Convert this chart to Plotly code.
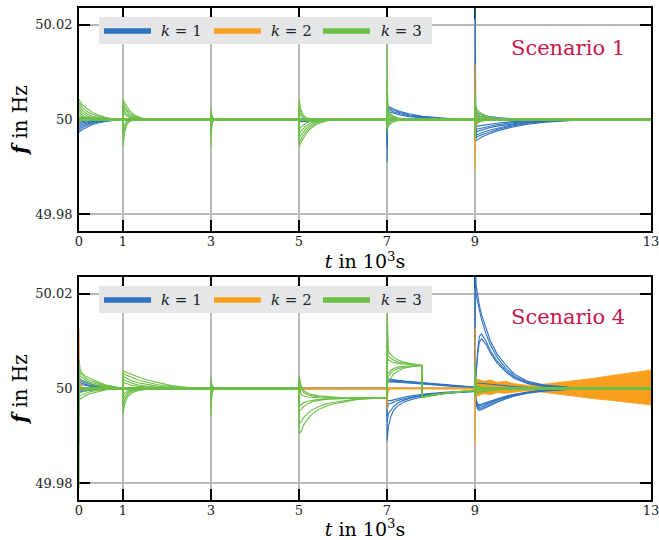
import plotly.graph_objects as go
from plotly.subplots import make_subplots

F0 = 50.0
X_TICKS = [0, 1, 3, 5, 7, 9, 13]
Y_TICKS = [49.98, 50.0, 50.02]
Y_TICK_TEXT = ["49.98", "50", "50.02"]
SERIES = ["k = 1", "k = 2", "k = 3"]
SCENARIOS = ["Scenario 1", "Scenario 4"]

# Transients: (event time in 10^3 s, time offsets in 10^3 s, curves as deviation in mHz)
S1_K1 = [
    (0, [0, 0.01, 0.05, 0.1, 0.2, 0.3, 0.45, 0.6, 0.8, 1.0], [
        [-2.7, -2.6, -2.3, -2.0, -1.5, -1.1, -0.7, -0.4, -0.15, 0],
        [-2.3, -2.2, -1.9, -1.6, -1.2, -0.85, -0.5, -0.3, -0.1, 0],
        [-1.9, -1.8, -1.5, -1.25, -0.9, -0.6, -0.35, -0.2, -0.05, 0],
        [-1.5, -1.4, -1.15, -0.95, -0.65, -0.45, -0.25, -0.1, 0, 0],
        [-1.1, -1.0, -0.8, -0.65, -0.45, -0.3, -0.15, -0.05, 0, 0],
        [-0.7, -0.65, -0.5, -0.4, -0.25, -0.15, -0.05, 0, 0, 0],
        [0.4, 0.4, 0.4, 0.38, 0.35, 0.3, 0.25, 0.18, 0.1, 0.04]]),
    (5, [0, 0.01, 0.05, 0.1, 0.2, 0.35, 0.5, 0.7, 0.9], [
        [0, -0.4, -0.45, -0.45, -0.4, -0.3, -0.2, -0.1, 0],
        [0, -0.25, -0.3, -0.3, -0.25, -0.2, -0.12, -0.05, 0]]),
    (7, [0, 0.003, 0.02, 0.06, 0.15, 0.3, 0.5, 0.8, 1.1, 1.5, 2.0], [
        [0, -9.0, 2.8, 2.6, 2.2, 1.7, 1.2, 0.7, 0.4, 0.15, 0],
        [0, -6.0, 2.5, 2.3, 1.9, 1.45, 1.0, 0.6, 0.3, 0.1, 0],
        [0, -4.0, 2.2, 2.0, 1.6, 1.2, 0.8, 0.45, 0.2, 0.05, 0],
        [0, 1.2, 1.8, 1.6, 1.3, 0.95, 0.6, 0.3, 0.15, 0.05, 0]]),
    (9, [0, 0.003, 0.02, 0.06, 0.15, 0.3, 0.5, 0.8, 1.2, 1.6, 2.2, 3.0], [
        [0, 30, -4.5, -4.2, -3.7, -3.1, -2.4, -1.7, -1.0, -0.55, -0.2, 0],
        [0, 12, -3.9, -3.6, -3.2, -2.7, -2.1, -1.45, -0.8, -0.45, -0.15, 0],
        [0, 6, -3.3, -3.1, -2.8, -2.3, -1.8, -1.2, -0.65, -0.35, -0.1, 0],
        [0, -2, -2.7, -2.5, -2.2, -1.8, -1.4, -0.95, -0.5, -0.25, -0.05, 0],
        [0, -1, -2.1, -2.0, -1.8, -1.5, -1.1, -0.7, -0.4, -0.2, 0, 0],
        [0, -1, -1.5, -1.4, -1.25, -1.05, -0.8, -0.5, -0.3, -0.1, 0, 0],
        [0, 2, 1.5, 1.3, 1.0, 0.7, 0.4, 0.2, 0.1, 0, 0, 0],
        [0, 3, 0.9, 0.8, 0.6, 0.4, 0.25, 0.1, 0, 0, 0, 0]]),
]
S1_K2 = [
    (0, [0, 0.005, 0.02, 0.05], [[0, -0.6, -0.3, 0], [0, 0.4, 0.2, 0]]),
    (7, [0, 0.003, 0.01, 0.03, 0.08], [
        [0, -1.7, -0.8, -0.2, 0], [0, -1.0, -0.5, -0.1, 0], [0, 0.6, 0.3, 0.1, 0]]),
    (9, [0, 0.003, 0.008, 0.02, 0.05, 0.1, 0.2], [
        [0, 11.6, 3, 1.2, 0.6, 0.2, 0], [0, -10.5, -3, -1.5, -0.6, -0.2, 0],
        [0, 6, 1.5, 0.8, 0.3, 0.1, 0], [0, -6, -1.8, -0.8, -0.3, -0.1, 0]]),
]
S1_K3 = [
    (0, [0, 0.01, 0.05, 0.1, 0.2, 0.3, 0.45, 0.6, 0.8], [
        [4.2, 4.0, 3.4, 2.9, 2.1, 1.5, 0.9, 0.45, 0.1],
        [3.6, 3.4, 2.8, 2.3, 1.6, 1.1, 0.6, 0.25, 0],
        [3.0, 2.8, 2.2, 1.7, 1.1, 0.7, 0.35, 0.1, 0],
        [2.4, 2.2, 1.6, 1.2, 0.7, 0.4, 0.2, 0.05, 0],
        [1.8, 1.6, 1.1, 0.7, 0.35, 0.15, 0.05, 0, 0],
        [1.2, 1.0, 0.7, 0.4, 0.2, 0.1, 0, 0, 0],
        [0.6, 0.5, 0.3, 0.2, 0.1, 0, 0, 0, 0]]),
    (1, [0, 0.005, 0.03, 0.08, 0.15, 0.25, 0.4, 0.6], [
        [0, 4.2, 3.6, 2.8, 1.9, 1.0, 0.35, 0],
        [0, 3.6, 3.0, 2.2, 1.4, 0.7, 0.2, 0],
        [0, 3.0, 2.4, 1.7, 1.0, 0.45, 0.1, 0],
        [0, 2.4, 1.8, 1.2, 0.65, 0.25, 0.05, 0],
        [0, 1.8, 1.3, 0.8, 0.4, 0.15, 0, 0],
        [0, -5.7, -3.0, -1.2, -0.4, -0.1, 0, 0],
        [0, -4.0, -2.0, -0.7, -0.2, 0, 0, 0],
        [0, -2.5, -1.2, -0.4, -0.1, 0, 0, 0]]),
    (3, [0, 0.003, 0.01, 0.03, 0.06, 0.1, 0.15], [
        [0, 2.5, 1.5, 0.6, 0.2, 0.05, 0],
        [0, 1.5, 0.9, 0.3, 0.1, 0, 0],
        [0, -5.7, -2.5, -0.8, -0.2, 0, 0],
        [0, -3.5, -1.5, -0.5, -0.1, 0, 0]]),
    (5, [0, 0.005, 0.03, 0.08, 0.15, 0.25, 0.4, 0.6, 0.8], [
        [0, -5.7, -5.0, -4.2, -3.2, -2.0, -1.0, -0.35, 0],
        [0, -4.8, -4.3, -3.6, -2.6, -1.6, -0.75, -0.25, 0],
        [0, -4.0, -3.5, -2.9, -2.0, -1.2, -0.5, -0.15, 0],
        [0, -3.0, -2.6, -2.1, -1.4, -0.8, -0.3, -0.1, 0],
        [0, -2.0, -1.7, -1.3, -0.8, -0.4, -0.15, 0, 0],
        [0, 4.2, 2.5, 1.2, 0.5, 0.1, 0, 0, 0],
        [0, 3.0, 1.8, 0.8, 0.3, 0.05, 0, 0, 0],
        [0, 2.0, 1.0, 0.4, 0.1, 0, 0, 0, 0]]),
    (7, [0, 0.003, 0.01, 0.03, 0.08, 0.15, 0.25, 0.4, 0.6], [
        [0, 15.8, 6, 2.0, 1.2, 0.7, 0.3, 0.1, 0],
        [0, 8, 3.5, 1.5, 0.9, 0.5, 0.2, 0.05, 0],
        [0, 4, 2.5, 1.1, 0.6, 0.3, 0.1, 0, 0],
        [0, 2.0, 1.5, 0.8, 0.4, 0.2, 0.05, 0, 0],
        [0, -2.5, -1.8, -1.4, -0.9, -0.5, -0.2, -0.05, 0],
        [0, -1.8, -1.3, -1.0, -0.6, -0.3, -0.1, 0, 0],
        [0, -1.2, -0.9, -0.6, -0.35, -0.15, 0, 0, 0]]),
    (9, [0, 0.003, 0.01, 0.04, 0.1, 0.2, 0.35, 0.5, 0.7], [
        [0, 5.7, 3.0, 2.2, 1.6, 1.0, 0.5, 0.2, 0],
        [0, 4.0, 2.4, 1.8, 1.2, 0.7, 0.3, 0.1, 0],
        [0, 3.0, 1.8, 1.3, 0.8, 0.45, 0.2, 0.05, 0],
        [0, 1.5, 1.0, 0.7, 0.4, 0.2, 0.05, 0, 0],
        [0, -4.2, -1.5, -0.9, -0.5, -0.25, -0.1, 0, 0],
        [0, -2.5, -1.0, -0.6, -0.3, -0.1, 0, 0, 0]]),
]

S4_K1 = [
    (0, [0, 0.03, 0.08, 0.15, 0.25, 0.4, 0.6, 0.85], [
        [2.1, 1.9, 1.7, 1.4, 1.0, 0.6, 0.25, 0],
        [1.7, 1.6, 1.4, 1.15, 0.8, 0.45, 0.2, 0],
        [1.3, 1.2, 1.05, 0.85, 0.6, 0.35, 0.15, 0],
        [0.9, 0.85, 0.75, 0.6, 0.4, 0.2, 0.1, 0],
        [-0.8, -0.7, -0.6, -0.5, -0.35, -0.2, -0.1, 0],
        [-0.4, -0.35, -0.3, -0.25, -0.15, -0.1, 0, 0]]),
    (7, [0, 0.004, 0.03, 0.08, 0.15, 0.25, 0.4, 0.6, 0.9, 1.3, 1.7, 2.0], [
        [0, -11, -8.2, -6.1, -4.6, -3.6, -2.8, -2.2, -1.6, -1.1, -0.8, -0.6],
        [0, -7, -5.3, -4.6, -3.8, -3.0, -2.4, -1.9, -1.4, -1.0, -0.75, -0.6],
        [0, -4.6, -3.2, -3.2, -2.9, -2.5, -2.1, -1.7, -1.25, -0.9, -0.7, -0.5],
        [0, -3, -2.5, -2.6, -2.4, -2.1, -1.8, -1.5, -1.1, -0.8, -0.6, -0.45],
        [0, 2.2, 2.0, 1.9, 1.8, 1.7, 1.55, 1.4, 1.15, 0.8, 0.5, 0.3],
        [0, 1.9, 1.8, 1.75, 1.65, 1.55, 1.45, 1.3, 1.05, 0.7, 0.45, 0.25],
        [0, 1.7, 1.6, 1.55, 1.5, 1.45, 1.35, 1.2, 0.95, 0.65, 0.4, 0.2],
        [0, 1.5, 1.4, 1.4, 1.35, 1.3, 1.2, 1.1, 0.85, 0.6, 0.35, 0.2]]),
    (9, [0, 0.003, 0.02, 0.06, 0.1, 0.15, 0.25, 0.35, 0.5, 0.7, 0.9, 1.2, 1.6, 2.2, 4.0], [
        [0, 30, 22, 19.5, 17.5, 15.5, 12.5, 10.0, 7.3, 4.9, 3.0, 1.5, 0.7, 0.2, 0],
        [0, 30, 20, 18, 16.5, 14.5, 11.5, 9.2, 6.6, 4.3, 2.6, 1.3, 0.55, 0.15, 0],
        [0, 0.5, 3, 8, 11, 11.5, 10, 8, 5.8, 3.8, 2.3, 1.1, 0.45, 0.1, 0],
        [0, 0.5, 2.5, 7, 9.8, 10.5, 9.3, 7.5, 5.4, 3.5, 2.1, 1.0, 0.4, 0.1, 0],
        [0, -1, -3.0, -4.4, -4.6, -4.5, -4.0, -3.5, -2.9, -2.2, -1.6, -1.0, -0.5, -0.15, 0],
        [0, -1, -2.8, -4.1, -4.3, -4.2, -3.8, -3.3, -2.7, -2.0, -1.5, -0.9, -0.45, -0.1, 0],
        [0, -1, -2.6, -3.8, -4.0, -3.9, -3.5, -3.1, -2.5, -1.9, -1.4, -0.85, -0.4, -0.1, 0],
        [0, -1, -2.4, -3.5, -3.7, -3.6, -3.3, -2.9, -2.3, -1.75, -1.3, -0.8, -0.4, -0.1, 0],
        [0, -1, -2.2, -3.2, -3.4, -3.3, -3.0, -2.7, -2.2, -1.6, -1.2, -0.75, -0.35, -0.1, 0],
        [0, 1, 1.1, 1.1, 1.1, 1.05, 1.0, 0.9, 0.75, 0.55, 0.4, 0.25, 0.1, 0, 0]]),
]
S4_K2 = [
    (0, [0, 0.003, 0.01, 0.03, 0.08, 0.15], [
        [12.6, 6, 2, 0.8, 0.2, 0], [-2.5, -1.2, -0.5, -0.2, 0, 0], [4, 2, 0.8, 0.3, 0.1, 0]]),
    (7, [0, 0.003, 0.01, 0.03, 0.08], [
        [0, -4.6, -1.5, -0.5, 0], [0, -3, -1, -0.3, 0], [0, 1.0, 0.4, 0.1, 0]]),
    (9, [0, 0.003, 0.008, 0.02, 0.05], [
        [0, 12.8, 3, 1.5, 1.0], [0, -12, -3, -1.2, -0.8]]),
]
# envelope of the growing k = 2 oscillation in Scenario 4 (mHz)
S4_K2_BAND_T = [9.0, 9.05, 9.2, 9.35, 9.5, 9.7, 9.9, 10.1, 10.25, 10.4, 10.6, 10.8,
                11.0, 11.25, 11.5, 11.75, 12.0, 12.25, 12.5, 12.75, 13.0]
S4_K2_BAND_HI = [1.0, 2.0, 1.5, 1.8, 1.3, 1.5, 1.0, 0.8, 0.6, 0.75, 0.95, 1.2,
                 1.4, 1.6, 2.0, 2.2, 2.6, 2.9, 3.3, 3.5, 3.9]
S4_K2_BAND_LO = [-1.0, -1.6, -1.1, -1.3, -0.9, -1.0, -0.7, -0.55, -0.45, -0.6, -0.85, -1.1,
                 -1.4, -1.6, -1.9, -2.2, -2.4, -2.7, -2.9, -3.2, -3.5]
S4_K3 = [
    (0, [0, 0.004, 0.03, 0.08, 0.15, 0.25, 0.4, 0.6, 0.9], [
        [-21, 5.9, 3.8, 3.1, 2.6, 2.1, 1.5, 0.8, 0.2],
        [-12, 4.5, 3.2, 2.7, 2.2, 1.7, 1.2, 0.6, 0.15],
        [-6, 3.5, 2.6, 2.2, 1.8, 1.3, 0.9, 0.45, 0.1],
        [0, 2.5, 2.0, 1.6, 1.3, 0.9, 0.6, 0.3, 0.05],
        [0, -2.5, -2.2, -1.9, -1.5, -1.1, -0.7, -0.3, 0],
        [0, -1.8, -1.5, -1.3, -1.0, -0.7, -0.4, -0.15, 0],
        [0, -1.0, -0.9, -0.7, -0.5, -0.3, -0.15, 0, 0]]),
    (1, [0, 0.004, 0.03, 0.1, 0.2, 0.35, 0.55, 0.8, 1.1, 1.5], [
        [0, 3.8, 3.6, 3.3, 2.9, 2.4, 1.8, 1.2, 0.6, 0.2],
        [0, 3.2, 3.0, 2.7, 2.3, 1.8, 1.3, 0.8, 0.4, 0.1],
        [0, 2.6, 2.4, 2.0, 1.6, 1.2, 0.8, 0.45, 0.2, 0.05],
        [0, 2.0, 1.8, 1.5, 1.1, 0.75, 0.45, 0.2, 0.05, 0],
        [0, 1.4, 1.2, 0.95, 0.7, 0.45, 0.25, 0.1, 0, 0],
        [0, -5.3, -3.5, -1.8, -0.9, -0.4, -0.15, 0, 0, 0],
        [0, -4.0, -2.6, -1.3, -0.6, -0.25, -0.1, 0, 0, 0],
        [0, -2.8, -1.8, -0.9, -0.4, -0.15, 0, 0, 0, 0],
        [0, -1.5, -1.0, -0.5, -0.2, -0.05, 0, 0, 0, 0]]),
    (3, [0, 0.003, 0.01, 0.03, 0.06, 0.1, 0.15], [
        [0, 2.3, 1.4, 0.6, 0.2, 0.05, 0],
        [0, 1.4, 0.8, 0.3, 0.1, 0, 0],
        [0, -6.0, -2.6, -0.9, -0.25, 0, 0],
        [0, -3.5, -1.5, -0.5, -0.1, 0, 0]]),
    (5, [0, 0.004, 0.05, 0.1, 0.2, 0.3, 0.45, 0.6, 0.8, 1.0, 1.3, 1.6, 2.0], [
        [0, -9.5, -9.0, -7.8, -6.4, -5.4, -4.4, -3.8, -3.2, -2.8, -2.35, -2.15, -2.0],
        [0, -7.5, -7.0, -6.2, -5.2, -4.5, -3.8, -3.3, -2.9, -2.6, -2.25, -2.1, -2.0],
        [0, -4.6, -4.5, -3.9, -3.2, -2.8, -2.5, -2.3, -2.2, -2.1, -2.05, -2.0, -2.0],
        [0, -3.5, -3.4, -3.0, -2.7, -2.5, -2.3, -2.2, -2.1, -2.05, -2.0, -2.0, -2.0],
        [0, 2.7, 0.5, -0.4, -1.0, -1.3, -1.55, -1.7, -1.85, -1.95, -2.0, -2.0, -2.0],
        [0, 1.7, 0.0, -0.8, -1.3, -1.55, -1.75, -1.85, -1.95, -2.0, -2.0, -2.0, -2.0],
        [0, 1.0, -1.2, -1.6, -1.8, -1.9, -1.95, -2.0, -2.0, -2.0, -2.0, -2.0, -2.0]]),
    (7, [0, 0.004, 0.03, 0.08, 0.15, 0.25, 0.4, 0.55, 0.7, 0.79, 0.795, 0.9, 1.1, 1.4, 1.7, 2.0], [
        [-2, 16.4, 8.0, 7.2, 6.6, 6.0, 5.5, 5.2, 5.0, 4.9, -1.9, -1.7, -1.35, -0.95, -0.6, -0.4],
        [-2, 10.0, 6.8, 6.4, 6.0, 5.6, 5.3, 5.1, 5.0, 4.9, -1.9, -1.7, -1.35, -0.95, -0.6, -0.4],
        [-2, 6.5, 6.0, 5.8, 5.5, 5.3, 5.1, 5.0, 4.9, 4.85, -1.85, -1.65, -1.3, -0.9, -0.6, -0.4],
        [-2, 3.0, 3.2, 3.8, 4.2, 4.5, 4.7, 4.8, 4.85, 4.85, -1.85, -1.65, -1.3, -0.9, -0.6, -0.4],
        [-2, 2.0, 2.5, 3.2, 3.8, 4.2, 4.5, 4.7, 4.8, 4.8, -1.8, -1.6, -1.25, -0.9, -0.55, -0.35],
        [-2, 1.0, 1.5, 2.2, 3.0, 3.7, 4.3, 4.6, 4.75, 4.8, -1.8, -1.6, -1.25, -0.9, -0.55, -0.35]]),
    (9, [0, 0.003, 0.01, 0.05, 0.15, 0.3, 0.5, 0.7, 1.0], [
        [-0.4, 5.3, 2.0, 0.5, 0.2, 0.1, 0, 0, 0],
        [-0.4, -2.0, -1.2, -0.9, -0.7, -0.5, -0.3, -0.15, 0],
        [-0.4, -1.5, -0.9, -0.7, -0.5, -0.35, -0.2, -0.1, 0],
        [-0.4, 2.5, 0.8, 0.3, 0.1, 0, 0, 0, 0]]),
]

# Steady segments (start, end) at nominal frequency
S1_BASE = [[(0, 13)], [(0, 13)], [(0, 13)]]
S4_BASE = [[(0, 7), (11, 13)], [(0, 9)], [(0, 5), (9, 13)]]

COLORS = ["#2f73c0", "#f89f1e", "#6cbe45"]
LEGEND_BG = "#e5e6e8"
SCEN_COLOR = "#c8174c"
FONT = "DejaVu Serif"


def transients(events):
    xs, ys = [], []
    for t0, offs, curves in events:
        for c in curves:
            xs += [t0 + o for o in offs] + [None]
            ys += [F0 + v / 1000.0 for v in c] + [None]
    return xs, ys


def segments(segs):
    xs, ys = [], []
    for a, b in segs:
        xs += [a, b, None]
        ys += [F0, F0, None]
    return xs, ys


fig = make_subplots(rows=2, cols=1)

panels = [(S1_K1, S1_K2, S1_K3, S1_BASE), (S4_K1, S4_K2, S4_K3, S4_BASE)]
for r, (k1, k2, k3, base) in enumerate(panels, start=1):
    if r == 2:
        bx = S4_K2_BAND_T + S4_K2_BAND_T[::-1]
        by = [F0 + v / 1000.0 for v in S4_K2_BAND_HI] + [F0 + v / 1000.0 for v in S4_K2_BAND_LO[::-1]]
        fig.add_trace(go.Scatter(x=bx, y=by, mode="lines", fill="toself", fillcolor=COLORS[1],
                                 line=dict(color=COLORS[1], width=0.8), name=SERIES[1],
                                 showlegend=False, hoverinfo="skip"), row=r, col=1)
    for gi, ev in enumerate([k1, k2, k3]):
        bxs, bys = segments(base[gi])
        fig.add_trace(go.Scatter(x=bxs, y=bys, mode="lines", name=SERIES[gi], showlegend=False,
                                 line=dict(color=COLORS[gi], width=2.5 if gi == 2 else 1.8)),
                      row=r, col=1)
        xs, ys = transients(ev)
        fig.add_trace(go.Scatter(x=xs, y=ys, mode="lines", name=SERIES[gi], showlegend=False,
                                 line=dict(color=COLORS[gi], width=1.1)), row=r, col=1)
    bxs, bys = segments(base[2])
    fig.add_trace(go.Scatter(x=bxs, y=bys, mode="lines", name=SERIES[2], showlegend=False,
                             line=dict(color=COLORS[2], width=2.8)), row=r, col=1)

axis_common = dict(showline=True, linecolor="black", linewidth=1.8, mirror="ticks",
                   ticks="inside", ticklen=11, tickwidth=1.8, tickcolor="black",
                   showgrid=True, gridcolor="#b9b9b9", gridwidth=1.6, zeroline=False,
                   automargin=False, layer="below traces", ticklabeloverflow="allow",
                   tickfont=dict(family=FONT, size=13, color="#222"))

xtitle = "<i>t</i> in 10<sup>3</sup>s"
ytitle = "<b><i>f</i></b> in Hz"
for i, dom in [(1, [0.5467, 1.0]), (2, [0.0, 0.4533])]:
    fig.update_layout(**{
        f"xaxis{'' if i == 1 else i}": dict(axis_common, range=[0, 13], tickvals=X_TICKS,
                                             ticktext=[str(v) for v in X_TICKS], ticklabelstandoff=-3,
                                             title=dict(text=xtitle, font=dict(family=FONT, size=19, color="black"),
                                                        standoff=0)),
        f"yaxis{'' if i == 1 else i}": dict(axis_common, domain=dom, range=[49.9765, 50.0235],
                                             tickvals=Y_TICKS, ticktext=Y_TICK_TEXT, ticklabelstandoff=2,
                                             title=dict(text=ytitle, font=dict(family=FONT, size=20, color="black"),
                                                        standoff=2)),
    })

shapes = []
annotations = []
LEG_X0, LEG_X1, LEG_Y0, LEG_Y1 = 0.035, 0.617, 0.8386, 0.9596
LEG_LINE_Y = 0.897
LEG_LINES = [(0.0437, 0.1259), (0.236, 0.318), (0.4266, 0.5087)]
LEG_TEXT_X = [0.180, 0.3715, 0.5638]
for i, yref in [(1, "y"), (2, "y2")]:
    xr = "x domain" if i == 1 else "x2 domain"
    yr = yref + " domain"
    shapes.append(dict(type="rect", xref=xr, yref=yr, x0=LEG_X0, x1=LEG_X1, y0=LEG_Y0, y1=LEG_Y1,
                       fillcolor=LEGEND_BG, line=dict(width=0), layer="above"))
    for gi in range(3):
        shapes.append(dict(type="line", xref=xr, yref=yr, x0=LEG_LINES[gi][0], x1=LEG_LINES[gi][1],
                           y0=LEG_LINE_Y, y1=LEG_LINE_Y, line=dict(color=COLORS[gi], width=5.5),
                           layer="above"))
        annotations.append(dict(xref=xr, yref=yr, x=LEG_TEXT_X[gi], y=LEG_LINE_Y, showarrow=False,
                                text=f"<i>k</i> = {gi + 1}", xanchor="center", yanchor="middle",
                                font=dict(family=FONT, size=15, color="#222")))
    annotations.append(dict(xref=xr, yref=yr, x=0.855, y=0.8206, showarrow=False, text=SCENARIOS[i - 1],
                            xanchor="center", yanchor="middle",
                            font=dict(family=FONT, size=21, color=SCEN_COLOR)))

fig.update_layout(width=659, height=540, margin=dict(l=79, r=8, t=8, b=40),
                  plot_bgcolor="white", paper_bgcolor="white", showlegend=False,
                  shapes=shapes, annotations=annotations)

fig.write_html("out.html", config={"displayModeBar": False},
               post_script="document.body.style.margin='0px';")
